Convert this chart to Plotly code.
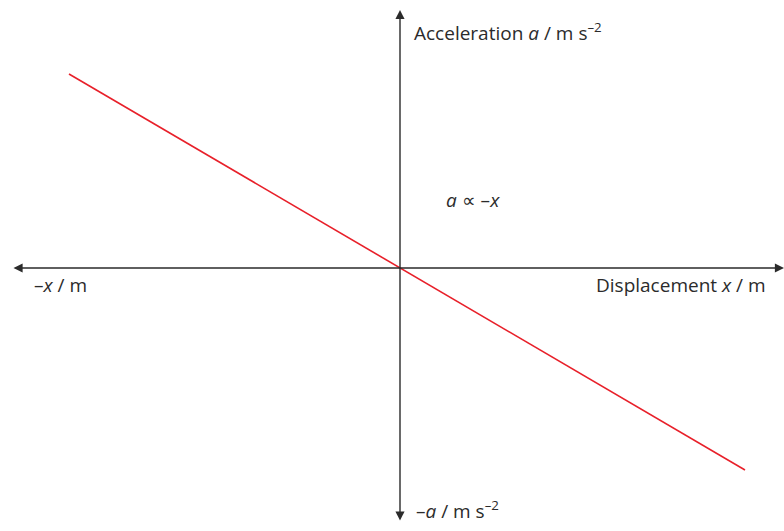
import plotly.graph_objects as go

# Line a = -k x, endpoints of the plotted segment
x_vals = [-3.31, 3.45]
a_vals = [1.94, -2.02]

# Axis extents (arrow tips)
x_axis_ends = [-3.88, 3.84]
y_axis_ends = [-2.54, 2.58]

axis_col = "#2b2b2b"
font_family = "Open Sans, Noto Sans, sans-serif"

fig = go.Figure()
fig.add_trace(go.Scatter(x=x_vals, y=a_vals, mode="lines",
                         line=dict(color="#e8202a", width=1.6),
                         hoverinfo="skip", showlegend=False))

annotations = [
    # horizontal axis, arrows at both ends
    dict(x=x_axis_ends[1], y=0, ax=x_axis_ends[0], ay=0, xref="x", yref="y",
         axref="x", ayref="y", text="", showarrow=True, arrowside="end+start",
         arrowhead=2, startarrowhead=2, arrowsize=1.3, startarrowsize=1.3,
         arrowwidth=1.4, arrowcolor=axis_col),
    # vertical axis, arrows at both ends
    dict(x=0, y=y_axis_ends[1], ax=0, ay=y_axis_ends[0], xref="x", yref="y",
         axref="x", ayref="y", text="", showarrow=True, arrowside="end+start",
         arrowhead=2, startarrowhead=2, arrowsize=1.3, startarrowsize=1.3,
         arrowwidth=1.4, arrowcolor=axis_col),
]

labels = [
    ("Acceleration <i>a</i> / m s<sup>–2</sup>", 0.12, 2.36, "left"),
    ("–<i>x</i> / m", -3.68, -0.17, "left"),
    ("Displacement <i>x</i> / m", 3.68, -0.17, "right"),
    ("–<i>a</i> / m s<sup>–2</sup>", 0.14, -2.42, "left"),
    ("<i>a</i> ∝ –<i>x</i>", 0.44, 0.68, "left"),
]
for txt, lx, ly, anchor in labels:
    annotations.append(dict(x=lx, y=ly, xref="x", yref="y", text=txt,
                            showarrow=False, xanchor=anchor, yanchor="middle",
                            font=dict(family=font_family, size=19, color=axis_col)))

fig.update_layout(
    width=784, height=531,
    margin=dict(l=0, r=0, t=0, b=0),
    paper_bgcolor="white", plot_bgcolor="white",
    xaxis=dict(range=[-4.00, 3.84], visible=False, fixedrange=True),
    yaxis=dict(range=[-2.63, 2.68], visible=False, fixedrange=True),
    annotations=annotations,
)

fig.write_html("out.html")
